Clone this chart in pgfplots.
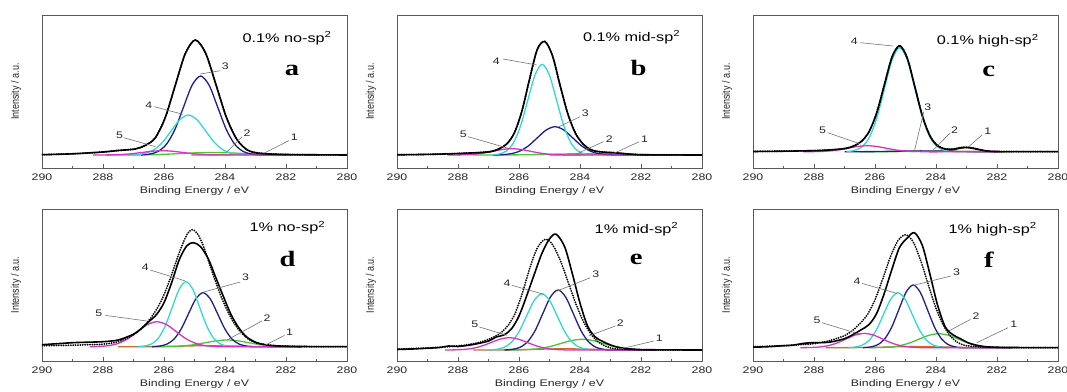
\documentclass[border=0pt]{standalone}
\usepackage{pgfplots}
\pgfplotsset{compat=1.18}
\usepackage{fontspec}
\setmainfont{Liberation Sans}[FakeStretch=1.3]
\newfontfamily\ylfont{Liberation Sans}
\newfontfamily\letfont{Liberation Serif}[FakeStretch=1.3]
\definecolor{cnavy}{RGB}{30,30,140}
\definecolor{ccyan}{RGB}{50,215,215}
\definecolor{cmag}{RGB}{215,50,200}
\definecolor{cgreen}{RGB}{70,200,50}
\definecolor{cone}{RGB}{200,110,40}
\definecolor{cred}{RGB}{170,30,30}
\definecolor{frame}{RGB}{90,90,90}
\definecolor{leadc}{RGB}{115,115,115}
\tikzset{
 comp/.style={smooth, mark=none, line width=1.3bp},
 env/.style={smooth, mark=none, black, line width=1.6bp},
 dat/.style={smooth, mark=none, black, line width=2bp, dash pattern=on 0pt off 2.4bp, line cap=round},
 lead/.style={draw=leadc, line width=0.6bp},
 num/.style={font=\fontsize{9.5bp}{10bp}\selectfont, text=black!85, inner sep=0pt},
 ttl/.style={font=\fontsize{12.5bp}{14bp}\selectfont, anchor=east, inner sep=0pt},
 let/.style={font=\letfont\bfseries\fontsize{22bp}{24bp}\selectfont, inner sep=0pt},
}
\pgfplotsset{
 xps/.style={
  scale only axis, width=305bp, anchor=south west,
  x dir=reverse, xmin=280, xmax=290,
  xtick={280,282,...,290}, minor x tick num=1, ytick=\empty,
  tick align=inside, xtick pos=bottom,
  major tick length=4bp, minor tick length=2bp,
  every tick/.style={frame},
  axis line style={frame, line width=0.9bp},
  tick label style={font=\fontsize{9.5bp}{11bp}\selectfont, text=black!85},
  /pgf/number format/assume math mode=true,
  xticklabel style={anchor=center, yshift=-9.5bp},
  xlabel={Binding Energy / eV},
  xlabel style={at={(axis description cs:0.5,0)}, anchor=center, yshift=-23bp, font=\fontsize{9.5bp}{11bp}\selectfont, text=black!85},
  ylabel={\scalebox{0.82}[1]{\ylfont\fontsize{11bp}{12bp}\selectfont Intensity / a.u.}},
  every axis y label/.style={at={(axis description cs:-0.085,0.5)}, rotate=90, anchor=center, text=black!85},
 },
}
\begin{document}
\begin{tikzpicture}
\useasboundingbox (0,0) rectangle (1067bp,392bp);
% ---------------- a
\begin{axis}[xps, at={(42bp,224bp)}, height=153bp, ymin=-13, ymax=140]
\addplot[comp, cone] coordinates {(285.1,0)(284,0.25)(283.5,0.7)(283,1)(282.5,0.7)(282,0.25)(281.2,0)};
\addplot[comp, cgreen] coordinates {(287.9,0)(287.4,0.03)(286.9,0.11)(286.4,0.34)(285.9,0.81)(285.4,1.52)(284.9,2.21)(284.4,2.5)(283.9,2.21)(283.4,1.52)(282.9,0.81)(282.4,0.34)(281.9,0.11)(281.4,0.03)(280.9,0)};
\addplot[comp, cnavy] coordinates {(286.76,0)(286.48,0.88)(286.2,3.47)(285.92,10.69)(285.64,25.65)(285.36,47.91)(285.08,69.72)(284.8,79)(284.52,69.72)(284.24,47.91)(283.96,25.65)(283.68,10.69)(283.4,3.47)(283.12,0.88)(282.84,0)(282,0)};
\addplot[comp, ccyan] coordinates {(287.16,0)(286.88,0.44)(286.6,1.76)(286.32,5.41)(286.04,12.99)(285.76,24.26)(285.48,35.3)(285.2,40)(284.92,35.3)(284.64,24.26)(284.36,12.99)(284.08,5.41)(283.8,1.76)(283.52,0.44)(283.24,0)};
\addplot[comp, cmag] coordinates {(288.325,0)(288,0.05)(287.675,0.19)(287.35,0.58)(287.025,1.4)(286.7,2.61)(286.375,3.79)(286.05,4.3)(285.725,3.79)(285.4,2.61)(285.075,1.4)(284.75,0.58)(284.425,0.19)(284.1,0.05)(283.775,0)(281.5,0)};
\addplot[env] coordinates {(290,0.3)(289,1.2)(288,3)(287.5,4.5)(286.95,6)(286.62,9.5)(286.29,17)(285.96,37.34)(285.63,69.75)(285.3,101.5)(284.97,115)(284.63,101.5)(284.29,69.75)(283.95,37.34)(283.61,15.56)(283.27,5.05)(282.93,2)(282.5,1)(282,0.5)(281,0.2)(280,0)};
\addplot[dat] coordinates {(290,0.3)(289,1.2)(288,3)(287.5,4.5)(286.95,6)(286.62,9.5)(286.29,17)(285.96,37.34)(285.63,69.75)(285.3,101.5)(284.97,115)(284.63,101.5)(284.29,69.75)(283.95,37.34)(283.61,15.56)(283.27,5.05)(282.93,2)(282.5,1)(282,0.5)(281,0.2)(280,0)};
\draw[lead] (axis cs:284.15,84.3) -- (axis cs:284.81,81); \node[num] at (axis cs:283.99,88.3) {3};
\draw[lead] (axis cs:286.32,48.3) -- (axis cs:285.38,40.7); \node[num] at (axis cs:286.5,50) {4};
\draw[lead] (axis cs:287.32,17.3) -- (axis cs:286.28,8.3); \node[num] at (axis cs:287.46,20) {5};
\draw[lead] (axis cs:283.44,18.3) -- (axis cs:283.93,3.3); \node[num] at (axis cs:283.28,22.3) {2};
\draw[lead] (axis cs:281.91,14.3) -- (axis cs:282.73,1.7); \node[num] at (axis cs:281.73,17.7) {1};
\node[ttl] at (axis cs:280.5,116.7) {0.1\% no-sp\textsuperscript{2}};
\node[let] at (axis cs:281.8,85) {a};
\end{axis}
% ---------------- b
\begin{axis}[xps, at={(397bp,224bp)}, height=153bp, ymin=-13, ymax=140]
\addplot[comp, cone] coordinates {(285,0)(284,0.13)(283.6,0.61)(283.3,1.2)(283,1.5)(282.7,1.2)(282.4,0.61)(282,0.13)(281,0)};
\addplot[comp, cgreen] coordinates {(287.5,0)(286.5,0.05)(286,0.16)(285.5,0.39)(285,0.73)(284.5,1.06)(284,1.2)(283.5,1.06)(283,0.73)(282.5,0.39)(282,0.16)(281.5,0.05)(280.5,0)};
\addplot[comp, cnavy] coordinates {(286.85,0)(286.56,0.31)(286.27,1.24)(285.98,3.83)(285.69,9.19)(285.4,17.16)(285.11,24.97)(284.82,28.3)(284.53,24.97)(284.24,17.16)(283.95,9.19)(283.66,3.83)(283.37,1.24)(283.08,0.31)(282.79,0)(282,0)};
\addplot[comp, ccyan] coordinates {(286.885,0)(286.65,1.01)(286.415,3.98)(286.18,12.27)(285.945,29.45)(285.71,55.01)(285.475,80.04)(285.24,90.7)(285.005,80.04)(284.77,55.01)(284.535,29.45)(284.3,12.27)(284.065,3.98)(283.83,1.01)(283.595,0)};
\addplot[comp, cmag] coordinates {(288.34,0)(288.04,0.07)(287.74,0.28)(287.44,0.85)(287.14,2.05)(286.84,3.82)(286.54,5.56)(286.24,6.3)(285.94,5.56)(285.64,3.82)(285.34,2.05)(285.04,0.85)(284.74,0.28)(284.44,0.07)(284.14,0)(281.5,0)};
\addplot[env] coordinates {(290,0.2)(289,0.6)(288.25,1.2)(287.75,1.8)(287.25,2.5)(286.9,3.6)(286.65,6.2)(286.4,11.1)(286.15,22.2)(285.9,44.4)(285.65,76.4)(285.4,105.6)(285.15,113.5)(284.9,99)(284.65,69.3)(284.4,41.3)(284.15,21.8)(283.9,11)(283.65,5.3)(283.4,3.4)(283.15,2.7)(282.9,2.3)(282.6,1.5)(282.3,0.75)(282,0.3)(281.5,0.15)(281,0.08)(280,0)};
\addplot[dat] coordinates {(290,0.2)(289,0.6)(288.25,1.2)(287.75,1.8)(287.25,2.5)(286.9,3.6)(286.65,6.2)(286.4,11.1)(286.15,22.2)(285.9,44.4)(285.65,76.4)(285.4,105.6)(285.15,113.5)(284.9,99)(284.65,69.3)(284.4,41.3)(284.15,21.8)(283.9,11)(283.65,5.3)(283.4,3.4)(283.15,2.7)(282.9,2.3)(282.6,1.5)(282.3,0.75)(282,0.3)(281.5,0.15)(281,0.08)(280,0)};
\draw[lead] (axis cs:286.52,96) -- (axis cs:285.42,90); \node[num] at (axis cs:286.74,94) {4};
\draw[lead] (axis cs:284.0,38.3) -- (axis cs:284.69,28.3); \node[num] at (axis cs:283.83,41.7) {3};
\draw[lead] (axis cs:287.67,18.3) -- (axis cs:286.35,6.7); \node[num] at (axis cs:287.83,21) {5};
\draw[lead] (axis cs:283.23,13.3) -- (axis cs:284.16,0.5); \node[num] at (axis cs:283.04,15.7) {2};
\draw[lead] (axis cs:282.06,13.3) -- (axis cs:282.9,1.5); \node[num] at (axis cs:281.88,15.7) {1};
\node[ttl] at (axis cs:280.71,117.7) {0.1\% mid-sp\textsuperscript{2}};
\node[let] at (axis cs:282.08,86.7) {b};
\end{axis}
% ---------------- c
\begin{axis}[xps, at={(753bp,224bp)}, height=153bp, ymin=-16.3, ymax=136.7]
\addplot[comp, cgreen] coordinates {(286.5,0)(285.5,0.05)(285,0.18)(284.5,0.4)(284,0.5)(283.5,0.4)(283,0.18)(282.5,0.05)(281.5,0)};
\addplot[comp, cnavy] coordinates {(287,0)(286,0.1)(285.5,0.4)(285,0.66)(284.5,0.8)(284,0.66)(283.5,0.4)(283,0.1)(282,0)};
\addplot[comp, cred] coordinates {(284.225,0)(284.05,0.04)(283.875,0.18)(283.7,0.54)(283.525,1.3)(283.35,2.43)(283.175,3.53)(283,4)(282.825,3.53)(282.65,2.43)(282.475,1.3)(282.3,0.54)(282.125,0.18)(281.95,0.04)(281.775,0)};
\addplot[comp, ccyan] coordinates {(286.94,0)(286.69,1.15)(286.44,4.57)(286.19,14.07)(285.94,33.77)(285.69,63.08)(285.44,91.78)(285.19,104)(284.94,91.78)(284.69,63.08)(284.44,33.77)(284.19,14.07)(283.94,4.57)(283.69,1.15)(283.44,0)};
\addplot[comp, cmag] coordinates {(288.36,0)(288.06,0.07)(287.76,0.26)(287.46,0.81)(287.16,1.95)(286.86,3.64)(286.56,5.3)(286.26,6)(285.96,5.3)(285.66,3.64)(285.36,1.95)(285.06,0.81)(284.76,0.26)(284.46,0.07)(284.16,0)(282,0)};
\addplot[env] coordinates {(290,0.2)(289,0.5)(288.25,0.9)(287.75,1.3)(287.25,2.3)(286.94,3.4)(286.69,5.8)(286.44,10.4)(286.19,20.3)(285.94,39.3)(285.69,67.3)(285.44,94.8)(285.19,106)(284.94,93.3)(284.69,64.5)(284.44,35.1)(284.19,15.3)(283.94,5.8)(283.69,2.7)(283.44,2.5)(283.2,3.95)(283,4.4)(282.8,3.6)(282.6,2.25)(282.4,1)(282.2,0.35)(281.8,0.1)(281,0.05)(280,0)};
\addplot[dat] coordinates {(290,0.2)(289,0.5)(288.25,0.9)(287.75,1.3)(287.25,2.3)(286.94,3.4)(286.69,5.8)(286.44,10.4)(286.19,20.3)(285.94,39.3)(285.69,67.3)(285.44,94.8)(285.19,106)(284.94,93.3)(284.69,64.5)(284.44,35.1)(284.19,15.3)(283.94,5.8)(283.69,2.7)(283.44,2.5)(283.2,3.95)(283,4.4)(282.8,3.6)(282.6,2.25)(282.4,1)(282.2,0.35)(281.8,0.1)(281,0.05)(280,0)};
\draw[lead] (axis cs:286.48,109) -- (axis cs:285.41,105.7); \node[num] at (axis cs:286.68,110) {4};
\draw[lead] (axis cs:284.4,40) -- (axis cs:284.71,0.5); \node[num] at (axis cs:284.27,44.3) {3};
\draw[lead] (axis cs:287.55,19) -- (axis cs:286.48,7.7); \node[num] at (axis cs:287.72,21.7) {5};
\draw[lead] (axis cs:283.55,18.3) -- (axis cs:284.13,0.5); \node[num] at (axis cs:283.39,21.7) {2};
\draw[lead] (axis cs:282.49,16.7) -- (axis cs:282.93,5); \node[num] at (axis cs:282.3,20.7) {1};
\node[ttl] at (axis cs:280.63,111) {0.1\% high-sp\textsuperscript{2}};
\node[let] at (axis cs:282.27,80) {c};
\end{axis}
% ---------------- d
\begin{axis}[xps, at={(42bp,31bp)}, height=152bp, ymin=-14.3, ymax=137.7]
\addplot[comp, cone] coordinates {(287.5,0)(286.5,0.08)(286,0.25)(285.5,0.54)(285,0.86)(284.5,1)(284,0.86)(283.5,0.54)(283,0.25)(282.5,0.08)(281.5,0)};
\addplot[comp, cgreen] coordinates {(286.38,0)(286.03,0.07)(285.68,0.29)(285.33,0.91)(284.98,2.18)(284.63,4.06)(284.28,5.91)(283.93,6.7)(283.58,5.91)(283.23,4.06)(282.88,2.18)(282.53,0.91)(282.18,0.29)(281.83,0.07)(281.48,0)};
\addplot[comp, cnavy] coordinates {(286.4,0)(286.16,0.6)(285.92,2.37)(285.68,7.31)(285.44,17.53)(285.2,32.75)(284.96,47.66)(284.72,54)(284.48,47.66)(284.24,32.75)(284,17.53)(283.76,7.31)(283.52,2.37)(283.28,0.6)(283.04,0)(281.5,0)};
\addplot[comp, ccyan] coordinates {(286.855,0)(286.63,0.72)(286.405,2.85)(286.18,8.79)(285.955,21.11)(285.73,39.42)(285.505,57.36)(285.28,65)(285.055,57.36)(284.83,39.42)(284.605,21.11)(284.38,8.79)(284.155,2.85)(283.93,0.72)(283.705,0)};
\addplot[comp, cmag] coordinates {(288.435,0)(288.12,0.28)(287.805,1.1)(287.49,3.38)(287.175,8.12)(286.86,15.16)(286.545,22.06)(286.23,25)(285.915,22.06)(285.6,15.16)(285.285,8.12)(284.97,3.38)(284.655,1.1)(284.34,0.28)(284.025,0)(281.5,0)};
\addplot[env] coordinates {(290,2)(289.5,3)(289,4)(288.5,4.5)(288,5)(287.5,6.7)(287,12.5)(286.75,18)(286.5,25)(286.25,32)(286,44)(285.75,64)(285.5,87)(285.25,101)(285.03,104)(284.8,100)(284.55,88)(284.3,69)(284.05,50)(283.8,32)(283.55,19)(283.3,10)(283,4.5)(282.7,2)(282.3,0.8)(281.5,0.2)(280,0)};
\addplot[dat] coordinates {(290,1)(289,1.5)(288.5,2)(288,2.5)(287.5,5)(287,12)(286.75,18)(286.5,26)(286.25,37)(286,52)(285.75,72)(285.5,94)(285.25,112)(285.08,117)(284.9,113)(284.7,100)(284.5,82)(284.25,60)(284,41)(283.75,26)(283.5,15)(283.25,8)(283,4)(282.5,1.5)(282,0.5)(281,0)(280,0)};
\draw[lead] (axis cs:286.45,76.7) -- (axis cs:285.3,65.7); \node[num] at (axis cs:286.61,79) {4};
\draw[lead] (axis cs:283.5,64.7) -- (axis cs:284.7,54.7); \node[num] at (axis cs:283.33,69) {3};
\draw[lead] (axis cs:287.92,31.3) -- (axis cs:286.56,25.7); \node[num] at (axis cs:288.14,33) {5};
\draw[lead] (axis cs:282.79,25.7) -- (axis cs:283.93,6.7); \node[num] at (axis cs:282.62,29) {2};
\draw[lead] (axis cs:282.05,11.3) -- (axis cs:282.73,0.7); \node[num] at (axis cs:281.88,14) {1};
\node[ttl] at (axis cs:280.71,119) {1\% no-sp\textsuperscript{2}};
\node[let] at (axis cs:281.95,87.3) {d};
\end{axis}
% ---------------- e
\begin{axis}[xps, at={(397bp,31bp)}, height=152bp, ymin=-11, ymax=141]
\addplot[comp, cone] coordinates {(287.5,0)(286.5,0.1)(286,0.3)(285.5,0.65)(285,1.03)(284.5,1.2)(284,1.03)(283.5,0.65)(283,0.3)(282.5,0.1)(281.5,0)};
\addplot[comp, cgreen] coordinates {(286.38,0)(286.03,0.12)(285.68,0.47)(285.33,1.45)(284.98,3.47)(284.63,6.49)(284.28,9.44)(283.93,10.7)(283.58,9.44)(283.23,6.49)(282.88,3.47)(282.53,1.45)(282.18,0.47)(281.83,0.12)(281.48,0)};
\addplot[comp, cnavy] coordinates {(286.47,0)(286.22,0.67)(285.97,2.63)(285.72,8.12)(285.47,19.48)(285.22,36.39)(284.97,52.95)(284.72,60)(284.47,52.95)(284.22,36.39)(283.97,19.48)(283.72,8.12)(283.47,2.63)(283.22,0.67)(282.97,0)(281.5,0)};
\addplot[comp, ccyan] coordinates {(287,0)(286.75,0.62)(286.5,2.47)(286.25,7.62)(286,18.28)(285.75,34.15)(285.5,49.68)(285.25,56.3)(285,49.68)(284.75,34.15)(284.5,18.28)(284.25,7.62)(284,2.47)(283.75,0.62)(283.5,0)};
\addplot[comp, cmag] coordinates {(288.42,0)(288.12,0.14)(287.82,0.54)(287.52,1.66)(287.22,3.99)(286.92,7.46)(286.62,10.85)(286.32,12.3)(286.02,10.85)(285.72,7.46)(285.42,3.99)(285.12,1.66)(284.82,0.54)(284.52,0.14)(284.22,0)(281.5,0)};
\addplot[env] coordinates {(290,0.5)(289.5,1)(289,1.8)(288.6,2.5)(288.3,4)(288,3.5)(287.5,5.5)(287,9)(286.75,13)(286.5,15)(286.25,21)(286,34)(285.75,54)(285.5,75.6)(285.25,96.5)(285,111.2)(284.78,115.7)(284.5,103)(284.25,76.2)(284,46.9)(283.75,23.9)(283.5,13)(283.25,8.5)(283,5)(282.75,2.8)(282.5,1.5)(282,0.4)(281,0.1)(280,0)};
\addplot[dat] coordinates {(290,1)(289,2)(288.25,3.5)(287.75,5)(287.25,8)(286.9,12)(286.65,16)(286.4,23)(286.15,35)(285.9,55.9)(285.65,81.4)(285.4,102)(285.14,110.7)(284.9,105.3)(284.65,89.9)(284.4,68.9)(284.15,47.4)(283.9,29.3)(283.65,16.2)(283.4,8.1)(283.15,3.6)(282.9,1.5)(282.5,0.6)(282,0.2)(281,0)(280,0)};
\draw[lead] (axis cs:286.23,64.7) -- (axis cs:285.19,55.7); \node[num] at (axis cs:286.39,66.7) {4};
\draw[lead] (axis cs:283.66,72.3) -- (axis cs:284.75,59); \node[num] at (axis cs:283.48,75.7) {3};
\draw[lead] (axis cs:287.3,23) -- (axis cs:286.39,14.7); \node[num] at (axis cs:287.45,25.7) {5};
\draw[lead] (axis cs:282.84,24) -- (axis cs:283.72,14); \node[num] at (axis cs:282.68,27.3) {2};
\draw[lead] (axis cs:281.58,9) -- (axis cs:282.73,0.7); \node[num] at (axis cs:281.4,11.3) {1};
\node[ttl] at (axis cs:280.77,120.7) {1\% mid-sp\textsuperscript{2}};
\node[let] at (axis cs:282.16,90.7) {e};
\end{axis}
% ---------------- f
\begin{axis}[xps, at={(753bp,31bp)}, height=152bp, ymin=-13.3, ymax=138.7]
\addplot[comp, cone] coordinates {(287.6,0)(286.6,0.1)(286.1,0.3)(285.6,0.65)(285.1,1.03)(284.6,1.2)(284.1,1.03)(283.6,0.65)(283.1,0.3)(282.6,0.1)(281.6,0)};
\addplot[comp, cgreen] coordinates {(286.185,0)(285.86,0.16)(285.535,0.61)(285.21,1.89)(284.885,4.55)(284.56,8.49)(284.235,12.36)(283.91,14)(283.585,12.36)(283.26,8.49)(282.935,4.55)(282.61,1.89)(282.285,0.61)(281.96,0.16)(281.635,0)};
\addplot[comp, cnavy] coordinates {(286.395,0)(286.16,0.7)(285.925,2.75)(285.69,8.48)(285.455,20.36)(285.22,38.03)(284.985,55.33)(284.75,62.7)(284.515,55.33)(284.28,38.03)(284.045,20.36)(283.81,8.48)(283.575,2.75)(283.34,0.7)(283.105,0)(281.5,0)};
\addplot[comp, ccyan] coordinates {(286.895,0)(286.66,0.61)(286.425,2.41)(286.19,7.44)(285.955,17.86)(285.72,33.36)(285.485,48.54)(285.25,55)(285.015,48.54)(284.78,33.36)(284.545,17.86)(284.31,7.44)(284.075,2.41)(283.84,0.61)(283.605,0)};
\addplot[comp, cmag] coordinates {(288.45,0)(288.15,0.16)(287.85,0.63)(287.55,1.93)(287.25,4.64)(286.95,8.67)(286.65,12.62)(286.35,14.3)(286.05,12.62)(285.75,8.67)(285.45,4.64)(285.15,1.93)(284.85,0.63)(284.55,0.16)(284.25,0)(281.5,0)};
\addplot[env] coordinates {(290,0.5)(289.5,1)(289,2)(288.7,2.5)(288.3,4.5)(288,5)(287.5,5.5)(287,9)(286.7,13.5)(286.45,18)(286.2,23)(285.95,34)(285.7,54)(285.45,78)(285.2,100)(284.95,109.4)(284.71,115)(284.45,102.4)(284.2,73.6)(283.95,42.7)(283.7,21)(283.45,13)(283.2,9)(282.95,5)(282.7,2.7)(282.3,0.8)(281.5,0.2)(280,0)};
\addplot[dat] coordinates {(290,1)(289,2)(288.5,3)(288,4)(287.5,7)(287,12)(286.75,17)(286.5,24)(286.25,33)(286,48)(285.75,68.5)(285.5,90.5)(285.25,106.9)(285,113)(284.75,105.9)(284.5,86.9)(284.25,62.6)(284,39.5)(283.75,21.9)(283.5,10.7)(283.25,4.5)(283,2)(282.5,0.8)(282,0.3)(281,0)(280,0)};
\draw[lead] (axis cs:286.43,64.3) -- (axis cs:285.28,54.3); \node[num] at (axis cs:286.59,66.7) {4};
\draw[lead] (axis cs:283.51,71.7) -- (axis cs:284.75,62.3); \node[num] at (axis cs:283.33,75.7) {3};
\draw[lead] (axis cs:287.74,25) -- (axis cs:286.48,13.3); \node[num] at (axis cs:287.9,27.3) {5};
\draw[lead] (axis cs:282.87,28.3) -- (axis cs:283.58,16.7); \node[num] at (axis cs:282.69,31.7) {2};
\draw[lead] (axis cs:281.64,20) -- (axis cs:282.66,5); \node[num] at (axis cs:281.45,23.3) {1};
\node[ttl] at (axis cs:280.69,118.3) {1\% high-sp\textsuperscript{2}};
\node[let] at (axis cs:282.27,88.3) {f};
\end{axis}
\end{tikzpicture}
\end{document}
